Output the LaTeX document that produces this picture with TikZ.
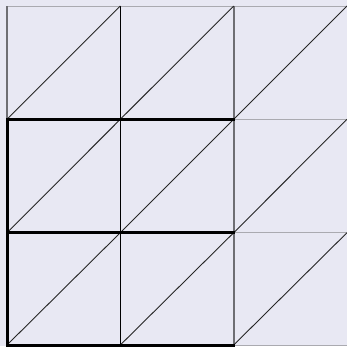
\documentclass[tikz,border=0pt]{standalone}
\definecolor{bg}{RGB}{232,232,243}
\definecolor{gridlight}{RGB}{170,170,176}
\definecolor{griddark}{RGB}{110,110,115}
\tikzset{
  gridline/.style={draw=gridlight, line width=1pt},
  darkline/.style={draw=griddark, line width=1.6pt},
  diag/.style={draw=black!85, line width=0.9pt},
  thick outline/.style={draw=black, line width=3pt, line cap=rect}
}
\begin{document}
\begin{tikzpicture}[x=1pt,y=-1pt]
\useasboundingbox (0,0) rectangle (347,346);
\fill[bg] (0,0) rectangle (347,346);
% named grid coordinates
\foreach \i/\x in {0/7,1/120.3,2/233.7,3/347}{
  \foreach \j/\y in {0/6,1/119.3,2/232.7,3/345}{
    \coordinate (p\i\j) at (\x,\y);
  }
}
% light horizontal grid lines
\draw[gridline] (p00) -- (p30);
\draw[gridline] (p01) -- (p31);
\draw[gridline] (p02) -- (p32);
\draw[gridline] (p03) -- (p33);
% vertical grid lines
\draw[darkline] (p00) -- (p01);
\draw[draw=black, line width=0.9pt] (p10) -- (p13);
\draw[darkline] (p20) -- (p23);
% diagonals
\foreach \i [evaluate=\i as \ii using int(\i+1)] in {0,1,2}{
  \foreach \j [evaluate=\j as \jj using int(\j+1)] in {0,1,2}{
    \draw[diag] (p\i\jj) -- (p\ii\j);
  }
}
% thick outline
\draw[thick outline] (p21) -- (p01) -- (p03) -- (p23);
\draw[thick outline] (p02) -- (p22);
\end{tikzpicture}
\end{document}
